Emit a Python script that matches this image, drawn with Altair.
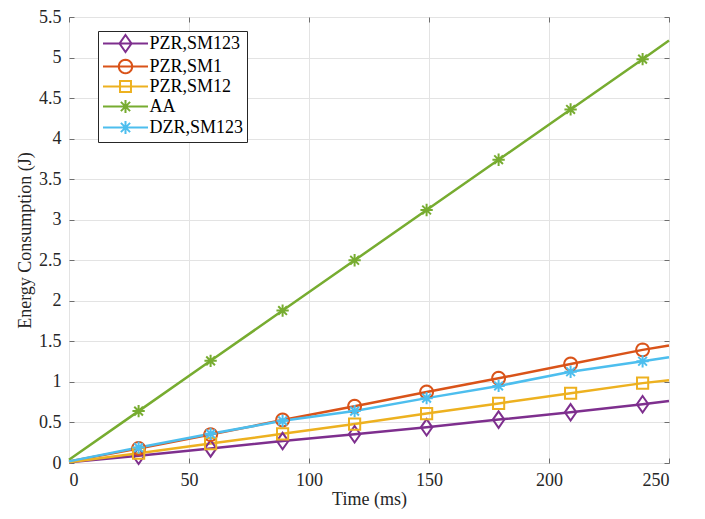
import math
import altair as alt
import pandas as pd

# ---------------- data ----------------
series = ["PZR,SM123", "PZR,SM1", "PZR,SM12", "AA", "DZR,SM123"]
colors = ["#7E2F8E", "#D95319", "#EDB120", "#77AC30", "#4DBEEE"]

line_x = [0, 29, 59, 89, 119, 149, 179, 209, 239, 250]
y_pzr_sm123 = [0.01, 0.09, 0.18, 0.27, 0.355, 0.44, 0.535, 0.625, 0.725, 0.765]
y_pzr_sm1 = [0.02, 0.18, 0.35, 0.53, 0.70, 0.875, 1.045, 1.22, 1.395, 1.45]
y_pzr_sm12 = [0.01, 0.12, 0.24, 0.36, 0.48, 0.61, 0.735, 0.86, 0.985, 1.02]
y_aa = [0.04, 0.64, 1.26, 1.88, 2.50, 3.12, 3.74, 4.36, 4.98, 5.21]
y_dzr_sm123 = [0.02, 0.19, 0.36, 0.52, 0.64, 0.80, 0.95, 1.125, 1.255, 1.305]

x_ticks = [0, 50, 100, 150, 200, 250]
y_ticks = [0, 0.5, 1, 1.5, 2, 2.5, 3, 3.5, 4, 4.5, 5, 5.5]

values = [y_pzr_sm123, y_pzr_sm1, y_pzr_sm12, y_aa, y_dzr_sm123]

rows = []
for s, ys in zip(series, values):
    for i, (x, y) in enumerate(zip(line_x, ys)):
        rows.append({"series": s, "t": x, "e": y,
                     "marker": 0 < i < len(line_x) - 1})
df = pd.DataFrame(rows)

# ---------------- marker shapes (styling) ----------------
def circle_path(cx, r, n=24):
    pts = [(cx + r * math.cos(2 * math.pi * k / n), r * math.sin(2 * math.pi * k / n)) for k in range(n)]
    return "M" + "L".join(f"{a:.3f},{b:.3f}" for a, b in pts) + "Z"

def diamond(cx, hw, hh):
    return f"M{cx},{-hh}L{cx + hw},0L{cx},{hh}L{cx - hw},0Z"

def square(cx, h):
    return f"M{cx - h},{-h}L{cx + h},{-h}L{cx + h},{h}L{cx - h},{h}Z"

def asterisk(cx, r):
    d = r * 0.7071
    return (f"M{cx},{-r}L{cx},{r}M{cx - r},0L{cx + r},0"
            f"M{cx - d},{-d}L{cx + d},{d}M{cx - d},{d}L{cx + d},{-d}")

plot_shapes = [diamond(0, 0.82, 1.18), circle_path(0, 0.92), square(0, 0.8),
               asterisk(0, 0.88), asterisk(0, 0.88)]
LINE = "M-1,0L5,0"
legend_shapes = [LINE + diamond(2, 0.8, 1.13), LINE + circle_path(2, 0.9),
                 LINE + square(2, 0.73), LINE + asterisk(2, 0.87),
                 LINE + asterisk(2, 0.87)]

FONT = "Liberation Serif"
TXT = "#262626"
GRID = "#e3e3e3"
BOX = "#6e6e6e"
W, H = 600, 446

xs = alt.Scale(domain=[0, 250], nice=False, zero=False)
ys = alt.Scale(domain=[0, 5.5], nice=False, zero=False)
cscale = alt.Scale(domain=series, range=colors)

main_x = alt.Axis(values=x_ticks, title="Time (ms)", grid=True, gridColor=GRID,
                  domain=False, ticks=False, tickSize=0, labelFont=FONT,
                  labelFontSize=18, labelColor=TXT, labelPadding=8,
                  titleFont=FONT, titleFontSize=18, titleFontWeight="normal",
                  titleColor=TXT, titlePadding=1, orient="bottom")
main_y = alt.Axis(values=y_ticks, title="Energy Consumption (J)", grid=True,
                  gridColor=GRID, domain=False, ticks=False, tickSize=0,
                  format="~g", labelFont=FONT, labelFontSize=18, labelColor=TXT,
                  labelPadding=8, titleFont=FONT, titleFontSize=18,
                  titleFontWeight="normal", titleColor=TXT, titlePadding=4,
                  orient="left")

def tick_axis(orient, vals, offset):
    return alt.Axis(orient=orient, values=vals, offset=offset, labels=False,
                    domain=False, grid=False, ticks=True, tickSize=5,
                    tickColor=BOX, title=None)

lines = alt.Chart(df).mark_line(strokeWidth=2.5, opacity=1).encode(
    x=alt.X("t:Q", scale=xs, axis=main_x),
    y=alt.Y("e:Q", scale=ys, axis=main_y),
    color=alt.Color("series:N", scale=cscale, legend=None),
    detail="series:N",
)

points = alt.Chart(df).transform_filter("datum.marker").mark_point(
    filled=False, size=196, strokeWidth=2, opacity=1
).encode(
    x=alt.X("t:Q", scale=xs, axis=tick_axis("top", x_ticks, -H)),
    y=alt.Y("e:Q", scale=ys, axis=tick_axis("right", y_ticks, -W)),
    color=alt.Color("series:N", scale=cscale, legend=None),
    shape=alt.Shape("series:N", scale=alt.Scale(domain=series, range=plot_shapes),
                    legend=None),
)

leg = dict(orient="none", legendX=29, legendY=14, title=None, symbolSize=225,
           symbolStrokeWidth=2, labelFont=FONT, labelFontSize=18,
           labelColor="#000000", labelOffset=30, rowPadding=-1, padding=3.5,
           labelExpr="datum.label + '\u00a0'",
           strokeColor="#262626", fillColor="white", symbolFillColor="transparent")

legend_layer = alt.Chart(df).transform_filter("false").mark_point(
    filled=False, size=225, strokeWidth=2, opacity=1
).encode(
    x=alt.X("t:Q", scale=xs, axis=tick_axis("bottom", x_ticks, -H)),
    y=alt.Y("e:Q", scale=ys, axis=tick_axis("left", y_ticks, -W)),
    color=alt.Color("series:N", scale=cscale, legend=alt.Legend(**leg)),
    shape=alt.Shape("series:N", scale=alt.Scale(domain=series, range=legend_shapes),
                    legend=alt.Legend(**leg)),
)

chart = alt.layer(lines, points, legend_layer).resolve_scale(
    color="independent", shape="independent"
).resolve_axis(x="independent", y="independent").properties(
    width=W, height=H,
    autosize=alt.AutoSizeParams(type="none"),
    padding={"left": 61, "top": 9, "right": 28, "bottom": 48},
).configure(font=FONT).configure_axis(
    labelFont=FONT, titleFont=FONT
).configure_legend(labelFont=FONT).configure_view(stroke=BOX, strokeWidth=1)

chart.save("out.html", embed_options={"renderer": "svg", "actions": False})
